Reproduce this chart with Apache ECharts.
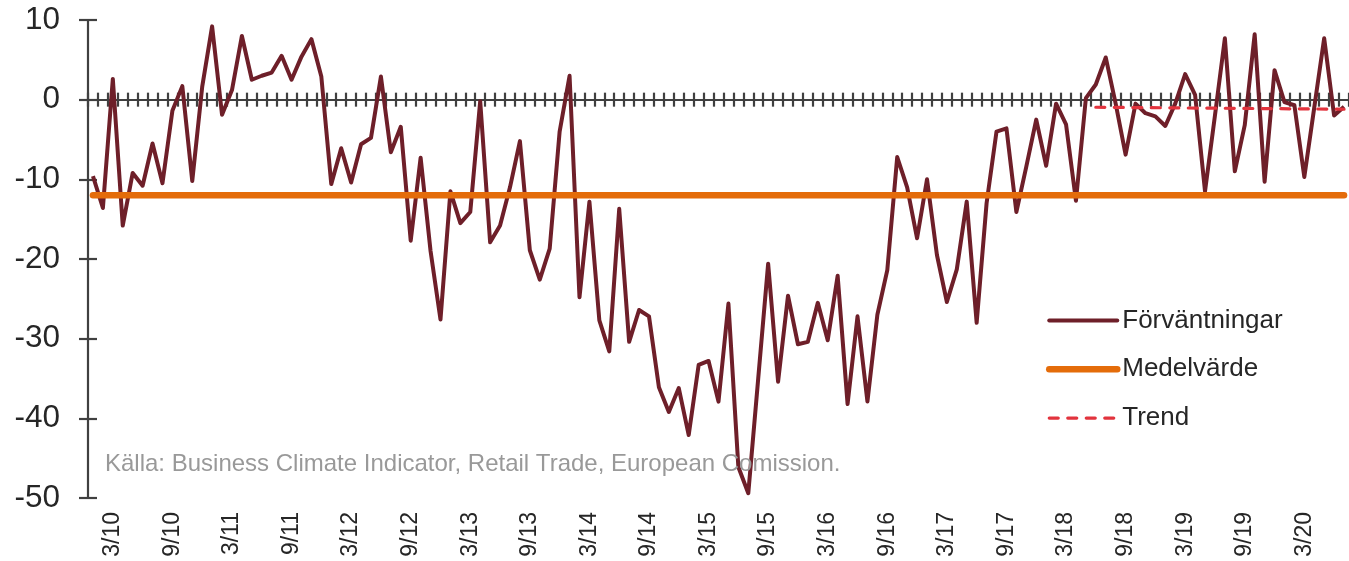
<!DOCTYPE html>
<html>
<head>
<meta charset="utf-8">
<script src="https://cdn.jsdelivr.net/npm/echarts@6/dist/echarts.min.js"></script>
<style>
  html, body { margin: 0; padding: 0; background: #ffffff; }
  #chart { width: 1349px; height: 561px; }
</style>
</head>
<body>
<div id="chart"></div>
<script>
// Months Jan 2010 .. Jul 2020 (category labels "M/YY")
const months = [];
for (let y = 10; y <= 20; y++) {
  for (let m = 1; m <= 12; m++) {
    if (y === 20 && m > 7) break;
    months.push(m + '/' + y);
  }
}
// Tick labels shown on the bottom axis
const tickLabels = ['3/10','9/10','3/11','9/11','3/12','9/12','3/13','9/13','3/14','9/14',
  '3/15','9/15','3/16','9/16','3/17','9/17','3/18','9/18','3/19','9/19','3/20'];

// Förväntningar (expectations), monthly
const expectations = [
  -9.6, -13.6, 2.6, -15.8, -9.2, -10.8, -5.5, -10.5, -1.4, 1.7, -10.2, 1.6,
  9.2, -1.9, 1.2, 8.0, 2.5, 3.0, 3.4, 5.5, 2.5, 5.4, 7.6, 2.9,
  -10.6, -6.1, -10.4, -5.6, -4.8, 2.9, -6.6, -3.4, -17.7, -7.3, -19.0, -27.6,
  -11.5, -15.5, -14.1, -0.2, -17.9, -15.8, -11.0, -5.2, -18.9, -22.6, -18.7, -4.0,
  3.0, -24.8, -12.8, -27.7, -31.6, -13.7, -30.4, -26.4, -27.2, -36.1, -39.2, -36.2,
  -42.1, -33.3, -32.8, -37.9, -25.6, -46.1, -49.4, -35.0, -20.6, -35.4, -24.6, -30.7,
  -30.4, -25.5, -30.2, -22.1, -38.2, -27.2, -37.9, -27.0, -21.4, -7.2, -11.0, -17.4,
  -10.0, -19.5, -25.4, -21.3, -12.8, -28.0, -13.0, -4.0, -3.6, -14.1, -8.4, -2.5,
  -8.3, -0.5, -3.1, -12.7, 0.2, 1.9, 5.3, -0.5, -6.9, -0.5, -1.7, -2.1,
  -3.3, -0.5, 3.2, 0.6, -11.5, -2.0, 7.7, -9.0, -3.2, 8.2, -10.3, 3.7,
  -0.3, -0.7, -9.7, -1.0, 7.7, -2.0, -0.9
];

// Medelvärde (mean) and Trend endpoints
const meanValue = -12;
const trendStartMonth = '6/18';
const trendStartValue = -0.95;
const trendEndMonth = '7/20';
const trendEndValue = -1.2;

const yTicks = { min: -50, max: 10, interval: 10 };

const meanData = [[months[0], meanValue], [months[months.length - 1], meanValue]];
const trendData = [[trendStartMonth, trendStartValue], [trendEndMonth, trendEndValue]];

const AXIS = '#404040';
const FONT = '"Liberation Sans", Arial, sans-serif';
const C_EXP = '#6E1F29';
const C_MEAN = '#E46C0A';
const C_TREND = '#E2333D';

const chart = echarts.init(document.getElementById('chart'), null, { renderer: 'canvas' });
chart.setOption({
  animation: false,
  backgroundColor: '#ffffff',
  textStyle: { fontFamily: FONT },
  title: {
    text: 'Källa: Business Climate Indicator, Retail Trade, European Comission.',
    left: 100, top: 447,
    textStyle: { fontFamily: FONT, fontSize: 24, fontWeight: 'normal', color: '#999999' }
  },
  grid: { left: 88, top: 20, width: 1262, height: 478, containLabel: false },
  legend: {
    orient: 'vertical',
    left: 1041, top: 302.5,
    itemWidth: 68, itemHeight: 26, itemGap: 22.8,
    textStyle: { fontFamily: FONT, fontSize: 26, color: '#262626', padding: [0, 0, 0, 0] },
    data: [
      { name: 'Förväntningar', itemStyle: { opacity: 0 }, lineStyle: { width: 4, color: C_EXP, cap: 'round' } },
      { name: 'Medelvärde', itemStyle: { opacity: 0 }, lineStyle: { width: 6.5, color: C_MEAN, cap: 'round' } },
      { name: 'Trend', itemStyle: { opacity: 0 }, lineStyle: { width: 3.2, color: C_TREND, type: [9, 9.5], cap: 'round' } }
    ]
  },
  xAxis: [
    {
      type: 'category', data: months, boundaryGap: true, position: 'bottom',
      axisLine: { show: false, onZero: false },
      axisTick: { show: false },
      axisLabel: {
        interval: 0, rotate: 90, margin: 14,
        fontFamily: FONT, fontSize: 23, color: '#262626',
        formatter: function (v) { return tickLabels.indexOf(v) >= 0 ? v : ''; }
      },
      splitLine: { show: false }
    },
    {
      type: 'category', data: months, boundaryGap: true, position: 'bottom',
      axisLine: { show: true, onZero: true, onZeroAxisIndex: 0, lineStyle: { color: AXIS, width: 2.2 } },
      axisTick: { show: true, interval: 0, inside: false, length: 7, lineStyle: { color: AXIS, width: 2.2 } },
      axisLabel: { show: false },
      splitLine: { show: false }
    },
    {
      type: 'category', data: months, boundaryGap: true, position: 'bottom',
      axisLine: { show: false, onZero: true, onZeroAxisIndex: 0 },
      axisTick: { show: true, interval: 0, inside: true, length: 7, lineStyle: { color: AXIS, width: 2.2 } },
      axisLabel: { show: false },
      splitLine: { show: false }
    }
  ],
  yAxis: [
    {
      type: 'value', min: yTicks.min, max: yTicks.max, interval: yTicks.interval, position: 'left',
      axisLine: { show: true, lineStyle: { color: AXIS, width: 2.2 } },
      axisTick: { show: true, inside: false, length: 9, lineStyle: { color: AXIS, width: 2.2 } },
      axisLabel: { margin: 28, fontFamily: FONT, fontSize: 31.5, color: '#262626' },
      splitLine: { show: false }
    },
    {
      type: 'value', min: yTicks.min, max: yTicks.max, interval: yTicks.interval, position: 'left', offset: 0,
      axisLine: { show: false },
      axisTick: { show: true, inside: true, length: 9, lineStyle: { color: AXIS, width: 2.2 } },
      axisLabel: { show: false },
      splitLine: { show: false }
    }
  ],
  series: [
    {
      name: 'Förväntningar', type: 'line', xAxisIndex: 0, yAxisIndex: 0,
      data: expectations, symbol: 'none', showSymbol: false,
      lineStyle: { color: C_EXP, width: 4, join: 'round' },
      itemStyle: { color: C_EXP }, z: 3
    },
    {
      name: 'Medelvärde', type: 'line', xAxisIndex: 0, yAxisIndex: 0,
      data: meanData, symbol: 'none', showSymbol: false,
      lineStyle: { color: C_MEAN, width: 6.5, cap: 'round' },
      itemStyle: { color: C_MEAN }, z: 4
    },
    {
      name: 'Trend', type: 'line', xAxisIndex: 0, yAxisIndex: 0,
      data: trendData, symbol: 'none', showSymbol: false,
      lineStyle: { color: C_TREND, width: 3.2, type: [9, 9.5], cap: 'round' },
      itemStyle: { color: C_TREND }, z: 5
    }
  ]
});
</script>
</body>
</html>
